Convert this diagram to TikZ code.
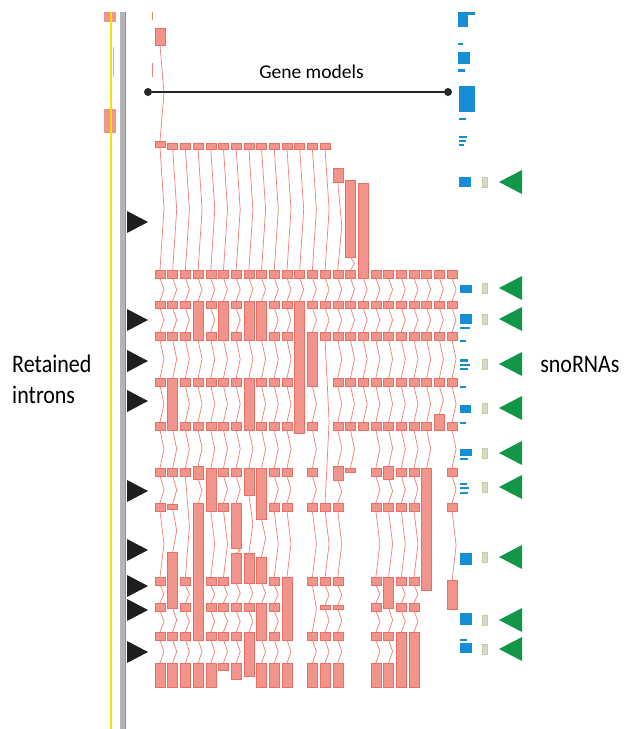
\documentclass[tikz,border=0pt]{standalone}
\usepackage{fontspec}
\setmainfont{Carlito}
\definecolor{exonfill}{RGB}{241,148,140}
\definecolor{exonline}{RGB}{234,110,100}
\definecolor{snogreen}{RGB}{18,150,72}
\definecolor{geneblue}{RGB}{22,142,214}
\definecolor{trackgrey}{RGB}{178,180,186}
\definecolor{trackyellow}{RGB}{246,226,0}
\definecolor{snogrey}{RGB}{214,218,206}
\definecolor{snoedge}{RGB}{190,212,150}
\newcommand{\tallword}[1]{\scalebox{1}[1.15]{#1}}

\begin{document}
\begin{tikzpicture}[x=1pt, y=-1pt, line width=0.5pt,
  exon/.style={fill=exonfill, draw=exonline, line width=0.5pt},
  intron/.style={draw=exonline!85, line width=0.75pt},
  retarrow/.style={fill=black!88},
  snoarrow/.style={fill=snogreen},
  snobox/.style={fill=snogrey, draw=snoedge, line width=0.6pt},
  gene/.style={fill=geneblue},
  gmdot/.style={circle, fill=black!85, inner sep=0pt, minimum size=8pt},
  label/.style={inner sep=0pt, font=\fontsize{22}{26}\selectfont}]
  \useasboundingbox (0,0) rectangle (630,729);

  \fill[exonfill] (104,12) rectangle (116,22);
  \fill[exonfill] (104,109) rectangle (116,133);
  \draw[exonline!60, line width=0.4pt] (113,47) -- (113,77);
  \draw[trackyellow, line width=1.5pt] (111,12) -- (111,729);
  \fill[trackgrey] (119.5,12) rectangle (125,729);
  \draw[trackgrey!80!black, line width=0.5pt] (125,12) -- (125,729);

  \draw[intron] (152,12) -- (152,20);
  \draw[intron] (152,63) -- (152,77);
  \foreach \c/\exons in {
    0/{28/45,141/147,270/278,301/308,332/340,378/386,422/430,468/476,503/511,577/585,603/611,632/640,663/687},
    1/{143/149,270/278,301/308,332/340,378/430,468/476,504/509,552/608,632/640,663/687},
    2/{143/149,270/278,301/308,332/340,378/386,422/430,468/476,577/585,603/611,632/640,663/687},
    3/{143/149,270/278,301/340,378/386,422/430,466/479,503/640,663/687},
    4/{143/149,270/278,301/308,332/340,378/386,422/430,468/511,577/585,603/611,632/640,663/687},
    5/{143/149,270/278,301/340,378/386,422/430,468/476,503/511,577/585,603/611,632/640,663/670},
    6/{143/149,270/278,301/308,332/340,378/386,422/430,468/476,503/548,553/583,603/611,632/640,663/679},
    7/{143/149,270/278,301/340,378/430,468/495,553/583,603/611,632/676},
    8/{143/149,270/278,301/340,378/386,422/430,468/519,557/583,603/640,663/687},
    9/{143/149,270/278,301/308,332/340,378/386,422/430,468/476,503/511,577/585,603/611,632/640,663/687},
    10/{143/149,270/278,301/308,332/340,378/386,422/430,468/476,503/511,577/640,663/687},
    11/{143/149,270/278,301/433},
    12/{143/149,270/278,301/308,332/386,422/430,468/476,503/511,577/585,632/640,663/687},
    13/{143/149,270/278,301/308,332/340,503/511,577/585,605/609,632/640,663/687},
    14/{168/182,270/278,301/308,332/340,378/386,422/430,466/480,503/511,577/585,605/609,632/640,663/687},
    15/{180/257,270/278,301/308,332/340,378/386,422/430,468/472},
    16/{183/278,301/308,332/340,378/386,422/430},
    17/{270/278,301/308,332/340,378/386,422/430,468/476,503/511,577/585,603/611,632/640,663/687},
    18/{270/278,301/308,332/340,378/386,422/430,466/479,503/511,577/608,632/640,663/687},
    19/{270/278,301/308,332/340,378/386,422/430,468/476,503/511,577/585,603/611,632/687},
    20/{270/278,301/308,332/340,378/386,422/430,468/476,503/511,577/585,603/611,632/687},
    21/{270/278,301/308,332/340,378/386,422/430,468/590},
    22/{270/278,301/308,332/340,378/386,414/430},
    23/{270/278,301/308,332/340,378/386,422/430,468/476,503/511,580/609}} {
    \pgfmathsetmacro\cx{155+12.7*\c+5}
    \foreach \t/\b [remember=\b as \pb (initially 0)] in \exons {
      \ifdim\pb pt>0pt
        \draw[intron] (\cx,\pb) -- ({\cx+4},{(\pb+\t)/2}) -- (\cx,\t);
      \fi
      \draw[exon] (\cx-5,\t) rectangle (\cx+5,\b);
    }
  }

  \foreach \y in {222,320,361,401,491,550,586,610,652}
    \fill[retarrow] (148,\y) -- (127,\y-11) -- (127,\y+11) -- cycle;

  \foreach \xa/\ya/\xb/\yb in {458/12/475/15, 458/15/468/27, 458/43/463/45, 458/52/470/64,
      458/69/465/72, 459/86/475/112, 459/118/466/120, 459/136/467/138, 459/140/466/142,
      459/144/464/146, 459/177/471/187, 460/285/472/293, 460/314/472/324, 460/327/470/329,
      460/340/466/342, 460/359/468/362, 460/364/470/366, 460/368/468/370, 460/386/466/388,
      460/405/471/413, 460/422/466/424, 460/449/472/456, 460/458/468/460, 460/483/467/485,
      460/487/469/489, 460/492/468/494, 460/553/472/565, 460/613/472/625, 460/639/467/641,
      460/643/472/653}
    \fill[gene] (\xa,\ya) rectangle (\xb,\yb);

  \foreach \y in {182,288,319,364,408,453,487,557,620,649} {
    \draw[snobox] (482,\y-5) rectangle (487,\y+5);
    \fill[snoarrow] (499,\y) -- (522,\y-12) -- (522,\y+12) -- cycle;
  }

  \node[gmdot] (gmL) at (148,92) {};
  \node[gmdot] (gmR) at (448,92) {};
  \draw[black!85, line width=1.2pt] (gmL) -- (gmR);
  \node[inner sep=0pt, anchor=base, font=\fontsize{19.5}{23}\selectfont] (gm) at (311.5,78) {Gene models};
  \node[label, anchor=base west] (ret1) at (12,372) {\tallword{Retained}};
  \node[label, anchor=base west] (ret2) at (12,403) {\tallword{introns}};
  \node[label, anchor=base west] (sno) at (540,372) {\tallword{snoRNAs}};
\end{tikzpicture}
\end{document}
